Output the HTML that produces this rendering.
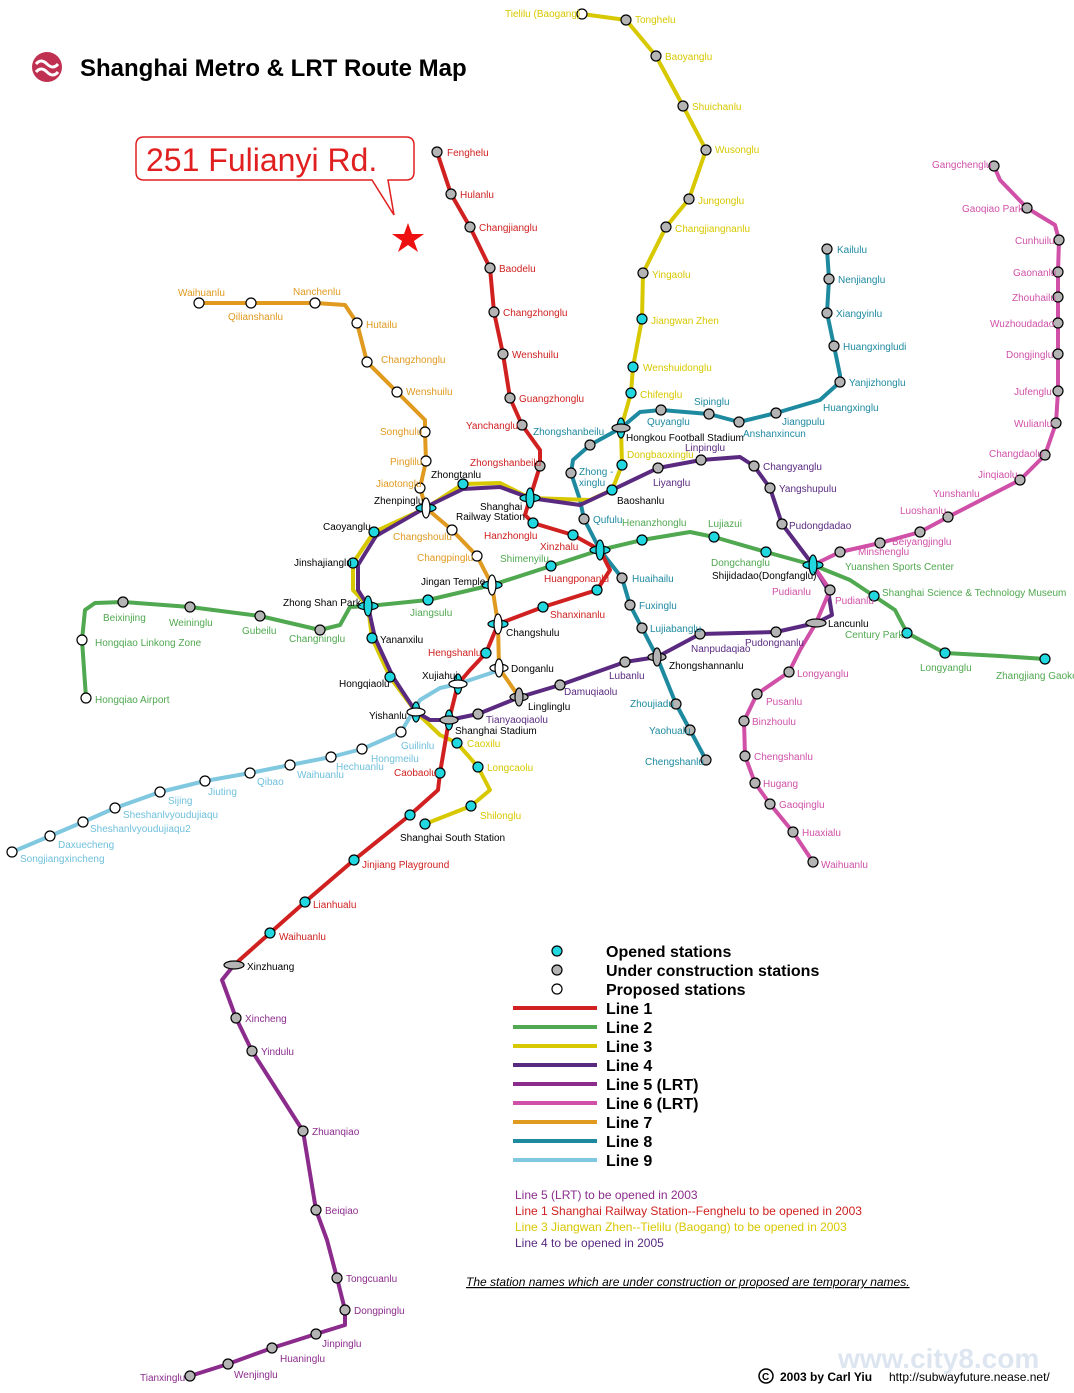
<!DOCTYPE html>
<html><head><meta charset="utf-8"><style>
html,body{margin:0;padding:0;background:#fff}
svg{display:block}
text{font-family:"Liberation Sans",sans-serif;font-size:10px}
.o{fill:#22d8e0;stroke:#000;stroke-width:1.2}
.u{fill:#b4b4b4;stroke:#000;stroke-width:1.2}
.p{fill:#fff;stroke:#000;stroke-width:1.2}
.l{fill:none;stroke-width:4;stroke-linejoin:round;stroke-linecap:round}
.r{fill:#d02020}.g{fill:#50a850}.y{fill:#d8c800}.v{fill:#5a2a80}.m{fill:#8b2c8c}.k{fill:#d050a8}.a{fill:#e09a20}.t{fill:#1e8aa0}.b{fill:#70c0dc}.n{fill:#000}
.lg{font-size:16px;font-weight:bold}
</style></head><body>
<svg width="1074" height="1393" viewBox="0 0 1074 1393" xmlns="http://www.w3.org/2000/svg">
<!-- title -->
<circle cx="47" cy="67" r="15" fill="#c03050"/>
<path d="M36 64 q5-6 11 0 q6 6 11 0 M36 72 q5-6 11 0 q6 6 11 0" stroke="#fff" stroke-width="3" fill="none"/>
<text x="80" y="76" style="font-size:24px;font-weight:bold">Shanghai Metro &amp; LRT Route Map</text>
<!-- callout -->
<path d="M144 137 H406 Q414 137 414 145 V172 Q414 180 406 180 H388 L394 215 L372 180 H144 Q136 180 136 172 V145 Q136 137 144 137Z" fill="#fff" stroke="#e02020" stroke-width="1.5"/>
<text x="146" y="171" style="font-size:32px;fill:#e02020">251 Fulianyi Rd.</text>
<polygon points="408,223 412,234 424,234 414,241 418,252 408,245 398,252 402,241 392,234 404,234" fill="#ee1010"/>

<!-- lines -->
<polyline class="l" stroke="#80c8e0" points="12,852 50,836 83,822 115,808 160,792 205,781 250,773 290,765 331,757 362,749 401,732 420,700 440,688 458,684 500,670"/>
<polyline class="l" stroke="#e09a20" points="199,303 251,303 315,303 345,305 357,323 367,362 397,392 425,420 425,432 426,461 420,488 426,508 452,530 477,556 492,585 498,624 499,668 519,697"/>
<polyline class="l" stroke="#1e8aa0" points="827,249 829,279 827,313 834,346 840,375 840,382 820,400 776,413 739,422 709,414 661,410 640,412 621,428 590,445 573,460 571,473 580,500 584,519 600,550 622,578 630,605 642,628 657,657 676,704 690,730 706,760"/>
<polyline class="l" stroke="#d8c800" points="582,14 626,20 656,56 683,106 706,150 689,199 666,227 643,273 642,319 633,367 631,393 621,428 622,465 612,490 590,500 530,498 500,483 463,484 426,508 374,532 353,563 353,590 368,606 372,638 390,677 416,712 440,735 457,743 478,767 490,790 471,806 425,824"/>
<polyline class="l" stroke="#5a2a80" points="530,498 500,487 463,489 430,505 376,536 358,565 358,590 368,606 375,638 393,677 416,712 430,720 449,720 478,714 520,697 560,685 625,662 657,657 700,634 776,632 816,623 832,615 828,590 813,565 782,524 770,488 754,466 740,457 701,460 658,468 612,490 580,505 530,498"/>
<polyline class="l" stroke="#50a850" points="86,698 82,640 85,610 95,603 123,602 190,607 260,616 320,630 340,625 350,607 368,606 428,600 492,585 551,566 600,550 642,540 690,532 714,537 766,552 813,565 850,580 874,596 895,610 907,633 945,653 1000,656 1045,659"/>
<polyline class="l" stroke="#d02020" points="437,152 451,194 470,227 490,268 494,312 503,354 510,398 522,425 540,450 540,466 530,498 525,515 533,523 573,535 600,550 610,570 597,590 543,607 498,624 486,653 470,670 458,684 449,720 440,773 438,790 410,815 354,860 305,902 270,933 234,965"/>
<polyline class="l" stroke="#d050a8" points="994,166 1000,180 1027,208 1055,225 1059,240 1058,272 1058,297 1058,323 1058,354 1058,391 1056,423 1045,455 1020,480 948,517 920,532 880,543 840,552 813,565 830,590 816,623 800,650 789,672 757,694 744,721 745,756 755,783 770,804 793,832 813,862"/>
<polyline class="l" stroke="#8b2c8c" points="234,965 222,980 236,1018 252,1051 303,1131 316,1210 327,1240 337,1278 345,1310 345,1325 316,1334 272,1348 228,1364 190,1376"/>

<!-- stations -->
<g>
<circle class="p" cx="582" cy="14" r="5"/><circle class="u" cx="626" cy="20" r="5"/><circle class="u" cx="656" cy="56" r="5"/><circle class="u" cx="683" cy="106" r="5"/><circle class="u" cx="706" cy="150" r="5"/><circle class="u" cx="689" cy="199" r="5"/><circle class="u" cx="666" cy="227" r="5"/><circle class="u" cx="643" cy="273" r="5"/><circle class="o" cx="642" cy="319" r="5"/><circle class="o" cx="633" cy="367" r="5"/><circle class="o" cx="631" cy="393" r="5"/><circle class="o" cx="622" cy="465" r="5"/><circle class="o" cx="612" cy="490" r="5"/>
<circle class="u" cx="437" cy="152" r="5"/><circle class="u" cx="451" cy="194" r="5"/><circle class="u" cx="470" cy="227" r="5"/><circle class="u" cx="490" cy="268" r="5"/><circle class="u" cx="494" cy="312" r="5"/><circle class="u" cx="503" cy="354" r="5"/><circle class="u" cx="510" cy="398" r="5"/><circle class="u" cx="522" cy="425" r="5"/><circle class="u" cx="540" cy="466" r="5"/>
<circle class="o" cx="533" cy="523" r="5"/><circle class="o" cx="573" cy="535" r="5"/><circle class="o" cx="597" cy="590" r="5"/><circle class="o" cx="543" cy="607" r="5"/><circle class="o" cx="486" cy="653" r="5"/><circle class="o" cx="440" cy="773" r="5"/><circle class="o" cx="410" cy="815" r="5"/><circle class="o" cx="354" cy="860" r="5"/><circle class="o" cx="305" cy="902" r="5"/><circle class="o" cx="270" cy="933" r="5"/>
<circle class="p" cx="199" cy="303" r="5"/><circle class="p" cx="251" cy="303" r="5"/><circle class="p" cx="315" cy="303" r="5"/><circle class="p" cx="357" cy="323" r="5"/><circle class="p" cx="367" cy="362" r="5"/><circle class="p" cx="397" cy="392" r="5"/><circle class="p" cx="425" cy="432" r="5"/><circle class="p" cx="426" cy="461" r="5"/><circle class="p" cx="420" cy="488" r="5"/><circle class="p" cx="452" cy="530" r="5"/><circle class="p" cx="477" cy="556" r="5"/>
<circle class="o" cx="463" cy="484" r="5"/><circle class="o" cx="374" cy="532" r="5"/><circle class="o" cx="353" cy="563" r="5"/><circle class="o" cx="372" cy="638" r="5"/><circle class="o" cx="390" cy="677" r="5"/><circle class="o" cx="457" cy="743" r="5"/><circle class="o" cx="478" cy="767" r="5"/><circle class="o" cx="471" cy="806" r="5"/><circle class="o" cx="425" cy="824" r="5"/>
<circle class="u" cx="123" cy="602" r="5"/><circle class="u" cx="190" cy="607" r="5"/><circle class="u" cx="260" cy="616" r="5"/><circle class="u" cx="320" cy="630" r="5"/><circle class="p" cx="82" cy="640" r="5"/><circle class="p" cx="86" cy="698" r="5"/>
<circle class="o" cx="428" cy="600" r="5"/><circle class="o" cx="551" cy="566" r="5"/><circle class="o" cx="642" cy="540" r="5"/><circle class="o" cx="714" cy="537" r="5"/><circle class="o" cx="766" cy="552" r="5"/><circle class="o" cx="874" cy="596" r="5"/><circle class="o" cx="907" cy="633" r="5"/><circle class="o" cx="945" cy="653" r="5"/><circle class="o" cx="1045" cy="659" r="5"/>
<circle class="u" cx="827" cy="249" r="5"/><circle class="u" cx="829" cy="279" r="5"/><circle class="u" cx="827" cy="313" r="5"/><circle class="u" cx="834" cy="346" r="5"/><circle class="u" cx="840" cy="382" r="5"/><circle class="u" cx="776" cy="413" r="5"/><circle class="u" cx="739" cy="422" r="5"/><circle class="u" cx="709" cy="414" r="5"/><circle class="u" cx="661" cy="410" r="5"/><circle class="u" cx="590" cy="445" r="5"/><circle class="u" cx="571" cy="473" r="5"/><circle class="u" cx="584" cy="519" r="5"/><circle class="u" cx="622" cy="578" r="5"/><circle class="u" cx="630" cy="605" r="5"/><circle class="u" cx="642" cy="628" r="5"/><circle class="u" cx="676" cy="704" r="5"/><circle class="u" cx="690" cy="730" r="5"/><circle class="u" cx="706" cy="760" r="5"/>
<circle class="u" cx="478" cy="714" r="5"/><circle class="u" cx="560" cy="685" r="5"/><circle class="u" cx="625" cy="662" r="5"/><circle class="u" cx="700" cy="634" r="5"/><circle class="u" cx="776" cy="632" r="5"/><circle class="u" cx="782" cy="524" r="5"/><circle class="u" cx="770" cy="488" r="5"/><circle class="u" cx="754" cy="466" r="5"/><circle class="u" cx="701" cy="460" r="5"/><circle class="u" cx="658" cy="468" r="5"/>
<circle class="u" cx="994" cy="166" r="5"/><circle class="u" cx="1027" cy="208" r="5"/><circle class="u" cx="1059" cy="240" r="5"/><circle class="u" cx="1058" cy="272" r="5"/><circle class="u" cx="1058" cy="297" r="5"/><circle class="u" cx="1058" cy="323" r="5"/><circle class="u" cx="1058" cy="354" r="5"/><circle class="u" cx="1058" cy="391" r="5"/><circle class="u" cx="1056" cy="423" r="5"/><circle class="u" cx="1045" cy="455" r="5"/><circle class="u" cx="1020" cy="480" r="5"/><circle class="u" cx="948" cy="517" r="5"/><circle class="u" cx="920" cy="532" r="5"/><circle class="u" cx="880" cy="543" r="5"/><circle class="u" cx="840" cy="552" r="5"/><circle class="u" cx="830" cy="590" r="5"/><circle class="u" cx="789" cy="672" r="5"/><circle class="u" cx="757" cy="694" r="5"/><circle class="u" cx="744" cy="721" r="5"/><circle class="u" cx="745" cy="756" r="5"/><circle class="u" cx="755" cy="783" r="5"/><circle class="u" cx="770" cy="804" r="5"/><circle class="u" cx="793" cy="832" r="5"/><circle class="u" cx="813" cy="862" r="5"/>
<circle class="u" cx="236" cy="1018" r="5"/><circle class="u" cx="252" cy="1051" r="5"/><circle class="u" cx="303" cy="1131" r="5"/><circle class="u" cx="316" cy="1210" r="5"/><circle class="u" cx="337" cy="1278" r="5"/><circle class="u" cx="345" cy="1310" r="5"/><circle class="u" cx="316" cy="1334" r="5"/><circle class="u" cx="272" cy="1348" r="5"/><circle class="u" cx="228" cy="1364" r="5"/><circle class="u" cx="190" cy="1376" r="5"/>
<circle class="p" cx="12" cy="852" r="5"/><circle class="p" cx="50" cy="836" r="5"/><circle class="p" cx="83" cy="822" r="5"/><circle class="p" cx="115" cy="808" r="5"/><circle class="p" cx="160" cy="792" r="5"/><circle class="p" cx="205" cy="781" r="5"/><circle class="p" cx="250" cy="773" r="5"/><circle class="p" cx="290" cy="765" r="5"/><circle class="p" cx="331" cy="757" r="5"/><circle class="p" cx="362" cy="749" r="5"/><circle class="p" cx="401" cy="732" r="5"/>
<!-- interchanges -->
<ellipse class="o" cx="530" cy="498" rx="10" ry="4"/><ellipse class="o" cx="530" cy="498" rx="4" ry="10"/>
<ellipse class="o" cx="600" cy="550" rx="10" ry="4"/><ellipse class="o" cx="600" cy="550" rx="4" ry="10"/>
<ellipse class="o" cx="368" cy="606" rx="10" ry="4"/><ellipse class="o" cx="368" cy="606" rx="4" ry="10"/>
<ellipse class="o" cx="813" cy="565" rx="10" ry="4"/><ellipse class="o" cx="813" cy="565" rx="4" ry="10"/>
<ellipse class="o" cx="426" cy="508" rx="10" ry="4"/><ellipse class="o" cx="426" cy="508" rx="4" ry="10" style="fill:#fff"/>
<ellipse class="o" cx="492" cy="585" rx="10" ry="4"/><ellipse class="o" cx="492" cy="585" rx="4" ry="10" style="fill:#fff"/>
<ellipse class="o" cx="498" cy="624" rx="10" ry="4"/><ellipse class="o" cx="498" cy="624" rx="4" ry="10" style="fill:#fff"/>
<ellipse class="o" cx="621" cy="428" rx="4" ry="10"/><ellipse class="u" cx="621" cy="428" rx="9" ry="4"/>
<ellipse class="o" cx="458" cy="684" rx="4" ry="10"/><ellipse class="p" cx="458" cy="684" rx="9" ry="4"/>
<ellipse class="o" cx="416" cy="712" rx="4" ry="10"/><ellipse class="p" cx="416" cy="712" rx="9" ry="4"/>
<ellipse class="o" cx="449" cy="720" rx="4" ry="10"/><ellipse class="u" cx="449" cy="720" rx="9" ry="4"/>
<ellipse class="p" cx="499" cy="668" rx="9" ry="4"/><ellipse class="p" cx="499" cy="668" rx="4" ry="9"/>
<ellipse class="u" cx="519" cy="697" rx="9" ry="4"/><ellipse class="u" cx="519" cy="697" rx="4" ry="9"/>
<ellipse class="u" cx="657" cy="657" rx="9" ry="4"/><ellipse class="u" cx="657" cy="657" rx="4" ry="9"/>
<ellipse class="u" cx="816" cy="623" rx="10" ry="4"/><ellipse class="u" cx="234" cy="965" rx="10" ry="4"/>
</g>

<!-- labels -->
<g>
<text class="y" x="505" y="17">Tielilu (Baogang)</text><text class="y" x="635" y="23">Tonghelu</text><text class="y" x="665" y="60">Baoyanglu</text><text class="y" x="692" y="110">Shuichanlu</text><text class="y" x="715" y="153">Wusonglu</text><text class="y" x="698" y="204">Jungonglu</text><text class="y" x="675" y="232">Changjiangnanlu</text><text class="y" x="652" y="278">Yingaolu</text><text class="y" x="651" y="324">Jiangwan Zhen</text><text class="y" x="643" y="371">Wenshuidonglu</text><text class="y" x="640" y="398">Chifenglu</text><text class="y" x="627" y="458">Dongbaoxinglu</text><text class="n" x="617" y="504">Baoshanlu</text>
<text class="r" x="447" y="156">Fenghelu</text><text class="r" x="460" y="198">Hulanlu</text><text class="r" x="479" y="231">Changjianglu</text><text class="r" x="499" y="272">Baodelu</text><text class="r" x="503" y="316">Changzhonglu</text><text class="r" x="512" y="358">Wenshuilu</text><text class="r" x="519" y="402">Guangzhonglu</text><text class="r" x="466" y="429">Yanchanglu</text><text class="r" x="470" y="466">Zhongshanbeilu</text>
<text class="n" x="480" y="510">Shanghai</text><text class="n" x="456" y="520">Railway Station</text>
<text class="r" x="484" y="539">Hanzhonglu</text><text class="r" x="540" y="550">Xinzhalu</text><text class="r" x="544" y="582">Huangponanlu</text><text class="r" x="550" y="618">Shanxinanlu</text><text class="r" x="428" y="656">Hengshanlu</text><text class="r" x="394" y="776">Caobaolu</text><text class="n" x="400" y="841">Shanghai South Station</text><text class="r" x="362" y="868">Jinjiang Playground</text><text class="r" x="313" y="908">Lianhualu</text><text class="r" x="279" y="940">Waihuanlu</text><text class="n" x="247" y="970">Xinzhuang</text>
<text class="a" x="178" y="296">Waihuanlu</text><text class="a" x="228" y="320">Qilianshanlu</text><text class="a" x="293" y="295">Nanchenlu</text><text class="a" x="366" y="328">Hutailu</text><text class="a" x="381" y="363">Changzhonglu</text><text class="a" x="406" y="395">Wenshuilu</text><text class="a" x="380" y="435">Songhulu</text><text class="a" x="390" y="465">Pinglilu</text><text class="a" x="376" y="487">Jiaotonglu</text><text class="a" x="393" y="540">Changshoulu</text><text class="a" x="417" y="561">Changpinglu</text>
<text class="n" x="431" y="478">Zhongtanlu</text><text class="n" x="374" y="504">Zhenpinglu</text><text class="n" x="323" y="530">Caoyanglu</text><text class="n" x="294" y="566">Jinshajianglu</text><text class="n" x="283" y="606">Zhong Shan Park</text><text class="n" x="380" y="643">Yananxilu</text><text class="n" x="339" y="687">Hongqiaolu</text><text class="n" x="369" y="719">Yishanlu</text><text class="n" x="421" y="585">Jingan Temple</text><text class="n" x="506" y="636">Changshulu</text><text class="n" x="511" y="672">Donganlu</text><text class="n" x="528" y="710">Linglinglu</text><text class="n" x="422" y="679">Xujiahui</text><text class="n" x="455" y="734">Shanghai Stadium</text><text class="y" x="467" y="747">Caoxilu</text><text class="y" x="487" y="771">Longcaolu</text><text class="y" x="480" y="819">Shilonglu</text>
<text class="g" x="103" y="621">Beixinjing</text><text class="g" x="169" y="626">Weininglu</text><text class="g" x="242" y="634">Gubeilu</text><text class="g" x="289" y="642">Changninglu</text><text class="g" x="95" y="646">Hongqiao Linkong Zone</text><text class="g" x="95" y="703">Hongqiao Airport</text><text class="g" x="410" y="616">Jiangsulu</text><text class="g" x="500" y="562">Shimenyilu</text><text class="g" x="622" y="526">Henanzhonglu</text><text class="g" x="708" y="527">Lujiazui</text><text class="g" x="711" y="566">Dongchanglu</text><text class="g" x="845" y="570">Yuanshen Sports Center</text><text class="g" x="882" y="596">Shanghai Science &amp; Technology Museum</text><text class="g" x="845" y="638">Century Park</text><text class="g" x="920" y="671">Longyanglu</text><text class="g" x="996" y="679">Zhangjiang Gaoke</text><text class="n" x="712" y="579">Shijidadao(Dongfanglu)</text>
<text class="t" x="837" y="253">Kailulu</text><text class="t" x="838" y="283">Nenjianglu</text><text class="t" x="836" y="317">Xiangyinlu</text><text class="t" x="843" y="350">Huangxingludi</text><text class="t" x="849" y="386">Yanjizhonglu</text><text class="t" x="823" y="411">Huangxinglu</text><text class="t" x="782" y="425">Jiangpulu</text><text class="t" x="743" y="437">Anshanxincun</text><text class="t" x="694" y="405">Sipinglu</text><text class="t" x="647" y="425">Quyanglu</text><text class="n" x="626" y="441">Hongkou Football Stadium</text><text class="t" x="533" y="435">Zhongshanbeilu</text><text class="t" x="579" y="475">Zhong -</text><text class="t" x="579" y="486">xinglu</text><text class="t" x="593" y="523">Qufulu</text><text class="t" x="632" y="582">Huaihailu</text><text class="t" x="639" y="609">Fuxinglu</text><text class="t" x="650" y="632">Lujiabanglu</text><text class="t" x="630" y="707">Zhoujiadu</text><text class="t" x="649" y="734">Yaohualu</text><text class="t" x="645" y="765">Chengshanlu</text>
<text class="v" x="486" y="723">Tianyaoqiaolu</text><text class="v" x="564" y="695">Damuqiaolu</text><text class="v" x="609" y="679">Lubanlu</text><text class="n" x="669" y="669">Zhongshannanlu</text><text class="v" x="691" y="652">Nanpudaqiao</text><text class="v" x="745" y="646">Pudongnanlu</text><text class="n" x="828" y="627">Lancunlu</text><text class="v" x="789" y="529">Pudongdadao</text><text class="v" x="779" y="492">Yangshupulu</text><text class="v" x="763" y="470">Changyanglu</text><text class="v" x="685" y="451">Linpinglu</text><text class="v" x="653" y="486">Liyanglu</text>
<text class="k" x="932" y="168">Gangchenglu</text><text class="k" x="962" y="212">Gaoqiao Park</text><text class="k" x="1015" y="244">Cunhuilu</text><text class="k" x="1013" y="276">Gaonanlu</text><text class="k" x="1012" y="301">Zhouhailu</text><text class="k" x="990" y="327">Wuzhoudadao</text><text class="k" x="1006" y="358">Dongjinglu</text><text class="k" x="1014" y="395">Jufenglu</text><text class="k" x="1014" y="427">Wulianlu</text><text class="k" x="989" y="457">Changdaolu</text><text class="k" x="978" y="478">Jinqiaolu</text><text class="k" x="933" y="497">Yunshanlu</text><text class="k" x="900" y="514">Luoshanlu</text><text class="k" x="892" y="545">Beiyangjinglu</text><text class="k" x="858" y="555">Minshenglu</text><text class="k" x="835" y="604">Pudianlu</text><text class="k" x="772" y="595">Pudianlu</text><text class="k" x="797" y="677">Longyanglu</text><text class="k" x="766" y="705">Pusanlu</text><text class="k" x="752" y="725">Binzhoulu</text><text class="k" x="754" y="760">Chengshanlu</text><text class="k" x="763" y="787">Hugang</text><text class="k" x="779" y="808">Gaoqinglu</text><text class="k" x="802" y="836">Huaxialu</text><text class="k" x="821" y="868">Waihuanlu</text>
<text class="m" x="245" y="1022">Xincheng</text><text class="m" x="261" y="1055">Yindulu</text><text class="m" x="312" y="1135">Zhuanqiao</text><text class="m" x="325" y="1214">Beiqiao</text><text class="m" x="346" y="1282">Tongcuanlu</text><text class="m" x="354" y="1314">Dongpinglu</text><text class="m" x="322" y="1347">Jinpinglu</text><text class="m" x="280" y="1362">Huaninglu</text><text class="m" x="234" y="1378">Wenjinglu</text><text class="m" x="140" y="1381">Tianxinglu</text>
<text class="b" x="20" y="862">Songjiangxincheng</text><text class="b" x="58" y="848">Daxuecheng</text><text class="b" x="90" y="832">Sheshanlvyoudujiaqu2</text><text class="b" x="123" y="818">Sheshanlvyoudujiaqu</text><text class="b" x="168" y="804">Sijing</text><text class="b" x="208" y="795">Jiuting</text><text class="b" x="257" y="785">Qibao</text><text class="b" x="297" y="778">Waihuanlu</text><text class="b" x="336" y="770">Hechuanlu</text><text class="b" x="371" y="762">Hongmeilu</text><text class="b" x="401" y="749">Guilinlu</text>
</g>

<!-- legend -->
<g>
<circle class="o" cx="557" cy="951" r="5"/><circle class="u" cx="557" cy="970" r="5"/><circle class="p" cx="557" cy="989" r="5"/>
<text class="lg" x="606" y="957">Opened stations</text><text class="lg" x="606" y="976">Under construction stations</text><text class="lg" x="606" y="995">Proposed stations</text>
<line x1="513" y1="1008" x2="597" y2="1008" stroke="#d02020" stroke-width="4"/><text class="lg" x="606" y="1014">Line 1</text>
<line x1="513" y1="1027" x2="597" y2="1027" stroke="#50a850" stroke-width="4"/><text class="lg" x="606" y="1033">Line 2</text>
<line x1="513" y1="1046" x2="597" y2="1046" stroke="#d8c800" stroke-width="4"/><text class="lg" x="606" y="1052">Line 3</text>
<line x1="513" y1="1065" x2="597" y2="1065" stroke="#5a2a80" stroke-width="4"/><text class="lg" x="606" y="1071">Line 4</text>
<line x1="513" y1="1084" x2="597" y2="1084" stroke="#8b2c8c" stroke-width="4"/><text class="lg" x="606" y="1090">Line 5  (LRT)</text>
<line x1="513" y1="1103" x2="597" y2="1103" stroke="#d050a8" stroke-width="4"/><text class="lg" x="606" y="1109">Line 6  (LRT)</text>
<line x1="513" y1="1122" x2="597" y2="1122" stroke="#e09a20" stroke-width="4"/><text class="lg" x="606" y="1128">Line 7</text>
<line x1="513" y1="1141" x2="597" y2="1141" stroke="#1e8aa0" stroke-width="4"/><text class="lg" x="606" y="1147">Line 8</text>
<line x1="513" y1="1160" x2="597" y2="1160" stroke="#80c8e0" stroke-width="4"/><text class="lg" x="606" y="1166">Line 9</text>
</g>
<text x="515" y="1199" style="font-size:12px;fill:#8b2c8c">Line 5 (LRT) to be opened in 2003</text>
<text x="515" y="1215" style="font-size:12px;fill:#d02020">Line 1 Shanghai Railway Station--Fenghelu to be opened in 2003</text>
<text x="515" y="1231" style="font-size:12px;fill:#d8c800">Line 3 Jiangwan Zhen--Tielilu (Baogang) to be opened in 2003</text>
<text x="515" y="1247" style="font-size:12px;fill:#5a2a80">Line 4 to be opened in 2005</text>
<text x="466" y="1286" style="font-size:12px;font-style:italic;text-decoration:underline">The station names which are under construction or proposed are temporary names.</text>
<text x="838" y="1368" style="font-size:28px;font-weight:bold;fill:#dde6f0">www.city8.com</text>
<circle cx="766" cy="1376" r="7" fill="none" stroke="#000" stroke-width="1.5"/><text x="762" y="1380" style="font-size:10px;font-weight:bold">C</text>
<text x="780" y="1381" style="font-size:12px;font-weight:bold">2003 by Carl Yiu</text>
<text x="889" y="1381" style="font-size:12px">http://subwayfuture.nease.net/</text>
</svg>
</body></html>
